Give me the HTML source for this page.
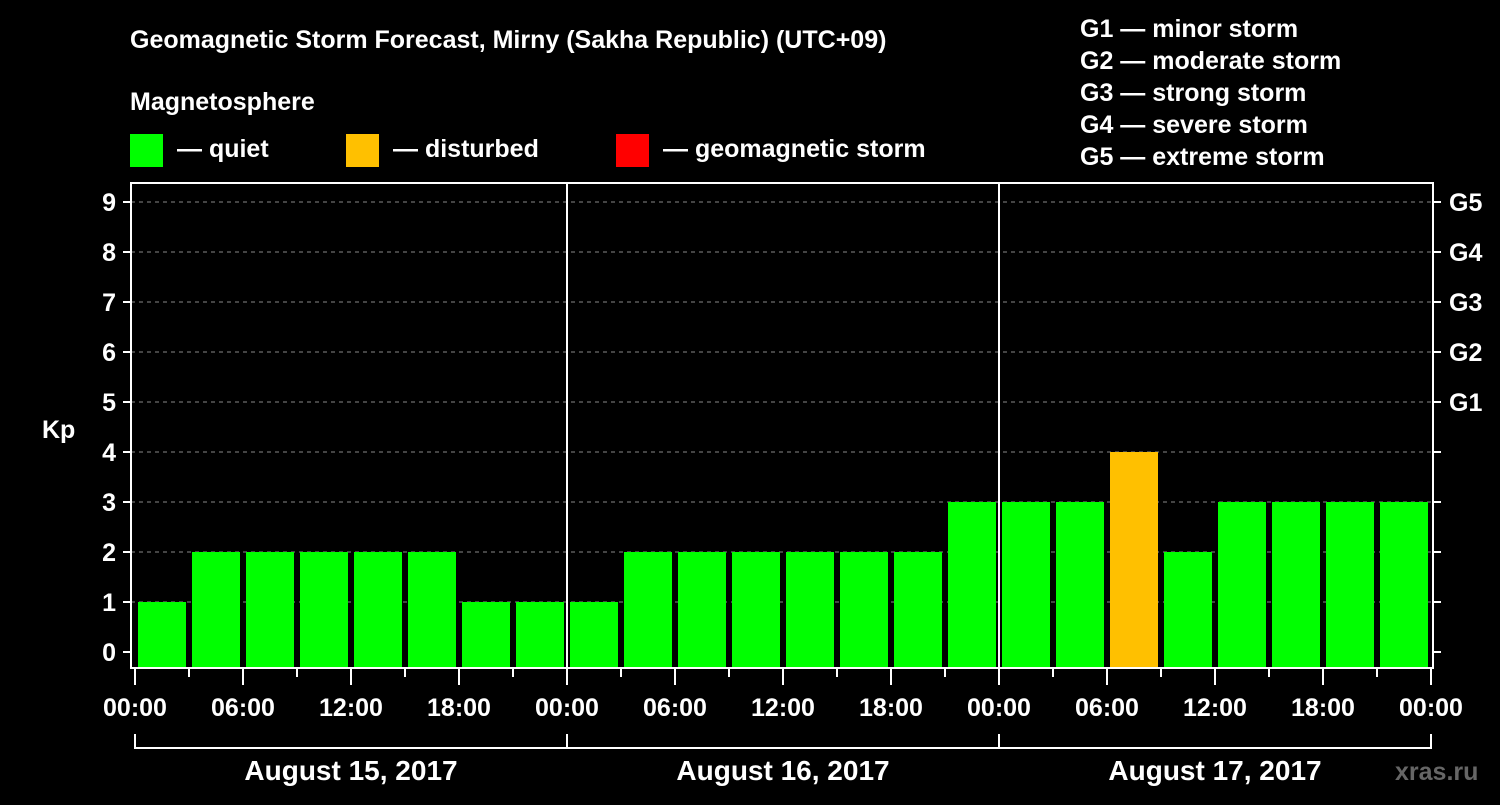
<!DOCTYPE html>
<html><head><meta charset="utf-8"><style>
body{margin:0;background:#000;width:1500px;height:800px;overflow:hidden;font-family:"Liberation Sans",sans-serif}
svg text{font-family:"Liberation Sans",sans-serif;font-weight:bold;fill:#fff}
</style></head><body>
<svg id="c" width="1500" height="800">
<text x="130" y="48" font-size="25">Geomagnetic Storm Forecast, Mirny (Sakha Republic) (UTC+09)</text>
<text x="130" y="110" font-size="25">Magnetosphere</text>
<g>
<rect x="130" y="134" width="33" height="33" fill="#00ff00"/><text x="177" y="157" font-size="25">— quiet</text>
<rect x="346" y="134" width="33" height="33" fill="#ffc000"/><text x="393" y="157" font-size="25">— disturbed</text>
<rect x="616" y="134" width="33" height="33" fill="#ff0000"/><text x="663" y="157" font-size="25">— geomagnetic storm</text>
</g>
<g font-size="25">
<text x="1080" y="37">G1 — minor storm</text>
<text x="1080" y="69">G2 — moderate storm</text>
<text x="1080" y="101">G3 — strong storm</text>
<text x="1080" y="133">G4 — severe storm</text>
<text x="1080" y="165">G5 — extreme storm</text>
</g>
<text x="42" y="438" font-size="25">Kp</text>
<text x="1395" y="780" font-size="25" fill="#555" style="fill:#666">xras.ru</text>
<g id="g"></g>
</svg>
<script>
const kpValues=[1,2,2,2,2,2,1,1, 1,2,2,2,2,2,2,3, 3,3,4,2,3,3,3,3];
const yTicks=[0,1,2,3,4,5,6,7,8,9];
const gLabels=["G1","G2","G3","G4","G5"];
const xLabels=["00:00","06:00","12:00","18:00","00:00","06:00","12:00","18:00","00:00","06:00","12:00","18:00","00:00"];
const dayLabels=["August 15, 2017","August 16, 2017","August 17, 2017"];
const NS="http://www.w3.org/2000/svg",g=document.getElementById('g');
const x0=135,slot=54,y=v=>652-v*50;
function mk(t,a,txt){const e=document.createElementNS(NS,t);for(const k in a)e.setAttribute(k,a[k]);if(txt!==undefined)e.textContent=txt;g.appendChild(e);return e;}
yTicks.forEach(v=>{
 if(v>0){const l=mk('line',{x1:131,x2:1433,y1:y(v),y2:y(v),stroke:'#888','stroke-dasharray':'4,4'});}
 mk('line',{x1:123,x2:131,y1:y(v),y2:y(v),stroke:'#fff','stroke-width':2});
 mk('line',{x1:1433,x2:1441,y1:y(v),y2:y(v),stroke:'#fff','stroke-width':2});
 const t=mk('text',{x:116,y:y(v)+9,'font-size':25,'text-anchor':'end'},v);
 
});
gLabels.forEach((s,i)=>{const t=mk('text',{x:1449,y:y(5+i)+9,'font-size':25},s);
 });
kpValues.forEach((v,i)=>{
 const c=v>=5?'#ff0000':v>=4?'#ffc000':'#00ff00';
 const r=mk('rect',{x:x0+i*slot+3,y:y(v),width:48,height:667-y(v),fill:c});
 
});
mk('rect',{x:131,y:183,width:1302,height:485,fill:'none',stroke:'#fff','stroke-width':2});
[1,2].forEach(d=>mk('line',{x1:x0+d*432,x2:x0+d*432,y1:183,y2:668,stroke:'#fff','stroke-width':2}));
for(let i=0;i<=24;i++){const long=i%2==0;mk('line',{x1:x0+i*slot,x2:x0+i*slot,y1:668,y2:long?685:677,stroke:'#fff','stroke-width':2});}
xLabels.forEach((s,i)=>{const t=mk('text',{x:x0+i*108,y:716,'font-size':25,'text-anchor':'middle'},s);
 });
mk('line',{x1:x0,x2:x0+1296,y1:748,y2:748,stroke:'#fff','stroke-width':2});
for(let d=0;d<=3;d++)mk('line',{x1:x0+d*432,x2:x0+d*432,y1:734,y2:749,stroke:'#fff','stroke-width':2});
dayLabels.forEach((s,i)=>{const t=mk('text',{x:x0+216+i*432,y:780,'font-size':28,'text-anchor':'middle'},s);
 });
</script>
</body></html>
